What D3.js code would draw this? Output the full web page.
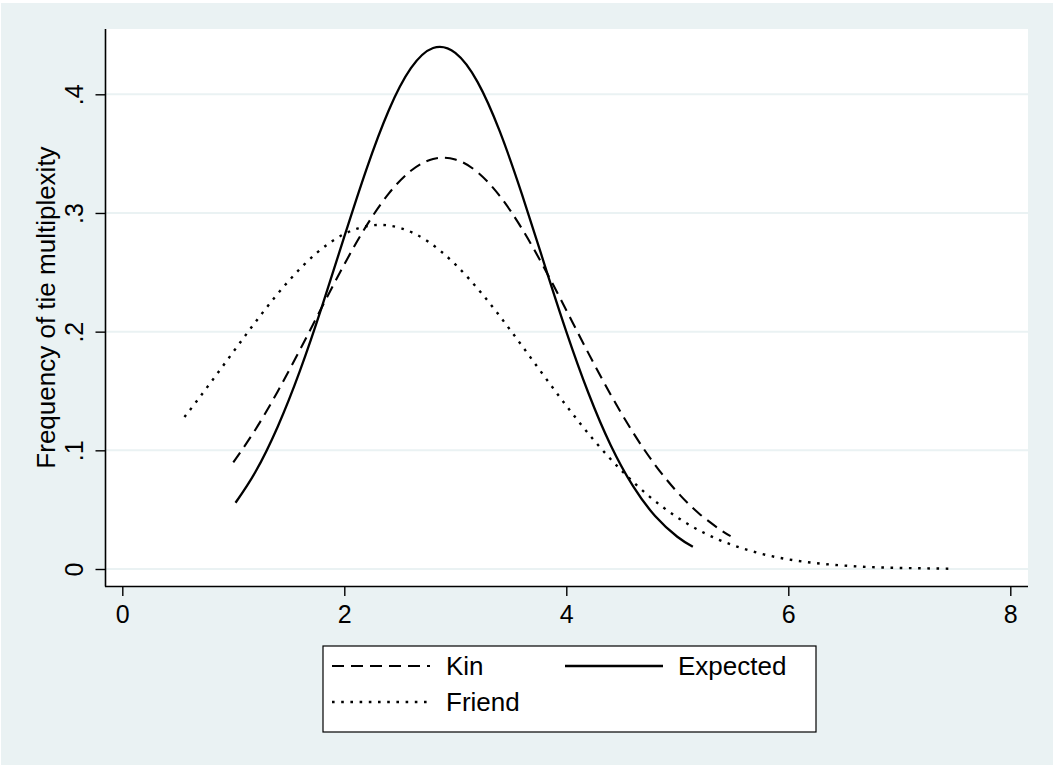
<!DOCTYPE html>
<html>
<head>
<meta charset="utf-8">
<script src="https://cdn.jsdelivr.net/npm/d3@7"></script>
<style>
  html, body { margin: 0; padding: 0; background: #ffffff; }
  svg { display: block; }
  text { font-family: "Liberation Sans", Arial, Helvetica, sans-serif; fill: #000; }
</style>
</head>
<body>
<svg id="chart" width="1055" height="767"></svg>
<script>
// Tie multiplexity curves: x values and frequencies for each group
const expectedX = [1.02, 1.2, 1.4, 1.6, 1.8, 2.0, 2.2, 2.4, 2.6, 2.8, 3.0, 3.2, 3.4, 3.6, 3.8, 4.0, 4.2, 4.4, 4.6, 4.8, 5.0, 5.14];
const expectedY = [0.0558, 0.0819, 0.1199, 0.1669, 0.2215, 0.2800, 0.3370, 0.3864, 0.4220, 0.4390, 0.4349, 0.4105, 0.3689, 0.3159, 0.2576, 0.2001, 0.1481, 0.1043, 0.0700, 0.0447, 0.0272, 0.0187];

const kinX = [1.0, 1.2, 1.4, 1.6, 1.8, 2.0, 2.2, 2.4, 2.6, 2.8, 3.0, 3.2, 3.4, 3.6, 3.8, 4.0, 4.2, 4.4, 4.6, 4.8, 5.0, 5.2, 5.4, 5.48];
const kinY = [0.0898, 0.1176, 0.1496, 0.1846, 0.2210, 0.2567, 0.2893, 0.3163, 0.3356, 0.3455, 0.3451, 0.3344, 0.3144, 0.2868, 0.2539, 0.2181, 0.1817, 0.1469, 0.1152, 0.0877, 0.0648, 0.0464, 0.0323, 0.0277];

const friendX = [0.56, 0.75, 1.0, 1.25, 1.5, 1.75, 2.0, 2.25, 2.5, 2.75, 3.0, 3.25, 3.5, 3.75, 4.0, 4.25, 4.5, 4.75, 5.0, 5.25, 5.5, 5.75, 6.0, 6.25, 6.5, 6.75, 7.0, 7.25, 7.5];
const friendY = [0.1280, 0.1513, 0.1830, 0.2143, 0.2428, 0.2662, 0.2823, 0.2896, 0.2875, 0.2762, 0.2567, 0.2308, 0.2008, 0.1690, 0.1376, 0.1084, 0.0827, 0.0610, 0.0435, 0.0300, 0.0201, 0.0130, 0.0081, 0.0049, 0.0029, 0.0016, 0.0009, 0.0005, 0.0002];

const xTicks = [0, 2, 4, 6, 8];
const yTicks = [0, 0.1, 0.2, 0.3, 0.4];
const yTickLabels = ["0", ".1", ".2", ".3", ".4"];
const yTitle = "Frequency of tie multiplexity";

const seriesNames = ["Kin", "Expected", "Friend"];

// ---- layout ----
const bgColor = "#eaf2f3";
const plot = { left: 106, right: 1028, top: 29, bottom: 586 };
const fontSize = 26;
const tickFontSize = 25;

const svg = d3.select("#chart");

// outer background
svg.append("rect")
  .attr("x", 1).attr("y", 3).attr("width", 1052).attr("height", 762)
  .attr("fill", bgColor);

// plot region
svg.append("rect")
  .attr("x", plot.left).attr("y", plot.top)
  .attr("width", plot.right - plot.left).attr("height", plot.bottom - plot.top)
  .attr("fill", "#ffffff");

const x = d3.scaleLinear().domain([0, 8]).range([122.3, 1010.3]);
const y = d3.scaleLinear().domain([0, 0.4]).range([569, 94.3]);

// horizontal grid lines
svg.append("g")
  .selectAll("line")
  .data(yTicks)
  .join("line")
  .attr("x1", plot.left).attr("x2", plot.right)
  .attr("y1", d => y(d)).attr("y2", d => y(d))
  .attr("stroke", bgColor)
  .attr("stroke-width", 2);

// x axis
const xAxis = d3.axisBottom(x)
  .tickValues(xTicks)
  .tickFormat(d3.format("d"))
  .tickSize(10)
  .tickSizeOuter(0);

const gx = svg.append("g")
  .attr("transform", `translate(0,${plot.bottom})`)
  .call(xAxis);
gx.select(".domain").attr("d", `M${plot.left - 1},0.5H${plot.right}`).attr("stroke", "#000").attr("stroke-width", 1.6);
gx.selectAll(".tick line").attr("stroke", "#000").attr("stroke-width", 1.4);
gx.selectAll(".tick text")
  .attr("font-size", tickFontSize)
  .attr("font-family", "Liberation Sans, Arial, sans-serif")
  .attr("dy", null)
  .attr("y", 37);

// y axis
const yAxis = d3.axisLeft(y)
  .tickValues(yTicks)
  .tickFormat((d, i) => yTickLabels[i])
  .tickSize(10)
  .tickSizeOuter(0);

const gy = svg.append("g")
  .attr("transform", `translate(${plot.left - 0.5},0)`)
  .call(yAxis);
gy.select(".domain").attr("d", `M0,${plot.top}V${plot.bottom + 0.5}`).attr("stroke", "#000").attr("stroke-width", 1.6);
gy.selectAll(".tick line").attr("stroke", "#000").attr("stroke-width", 1.4);
gy.selectAll(".tick text")
  .attr("font-size", tickFontSize)
  .attr("font-family", "Liberation Sans, Arial, sans-serif")
  .attr("x", null).attr("dy", null)
  .attr("text-anchor", "middle")
  .attr("transform", "translate(-23,0) rotate(-90)");

// y axis title
svg.append("text")
  .attr("transform", `translate(55,${(plot.top + plot.bottom) / 2}) rotate(-90)`)
  .attr("text-anchor", "middle")
  .attr("font-size", fontSize)
  .text(yTitle);

// ---- curves ----
const line = d3.line()
  .x(d => x(d[0]))
  .y(d => y(d[1]))
  .curve(d3.curveNatural);

const styles = {
  Kin: { dash: "12,7", width: 2.1 },
  Expected: { dash: null, width: 2.3 },
  Friend: { dash: "2.6,6.6", width: 2.4 }
};

const series = [
  { name: "Friend", pts: d3.zip(friendX, friendY) },
  { name: "Kin", pts: d3.zip(kinX, kinY) },
  { name: "Expected", pts: d3.zip(expectedX, expectedY) }
];

svg.append("g")
  .selectAll("path")
  .data(series)
  .join("path")
  .attr("d", d => line(d.pts))
  .attr("fill", "none")
  .attr("stroke", "#000")
  .attr("stroke-width", d => styles[d.name].width)
  .attr("stroke-dasharray", d => styles[d.name].dash);

// ---- legend ----
const legend = svg.append("g");
legend.append("rect")
  .attr("x", 323).attr("y", 646)
  .attr("width", 493).attr("height", 86)
  .attr("fill", "#ffffff")
  .attr("stroke", "#000")
  .attr("stroke-width", 1.2);

const legendItems = [
  { name: seriesNames[0], kx: 332, ky: 666, tx: 446, ty: 675 },
  { name: seriesNames[1], kx: 565, ky: 666, tx: 678, ty: 675 },
  { name: seriesNames[2], kx: 332, ky: 702, tx: 446, ty: 711 }
];

legendItems.forEach(it => {
  const st = styles[it.name];
  legend.append("line")
    .attr("x1", it.kx).attr("x2", it.kx + 98)
    .attr("y1", it.ky).attr("y2", it.ky)
    .attr("stroke", "#000")
    .attr("stroke-width", st.width)
    .attr("stroke-dasharray", st.dash);
  legend.append("text")
    .attr("x", it.tx).attr("y", it.ty)
    .attr("font-size", fontSize)
    .text(it.name);
});
</script>
</body>
</html>
